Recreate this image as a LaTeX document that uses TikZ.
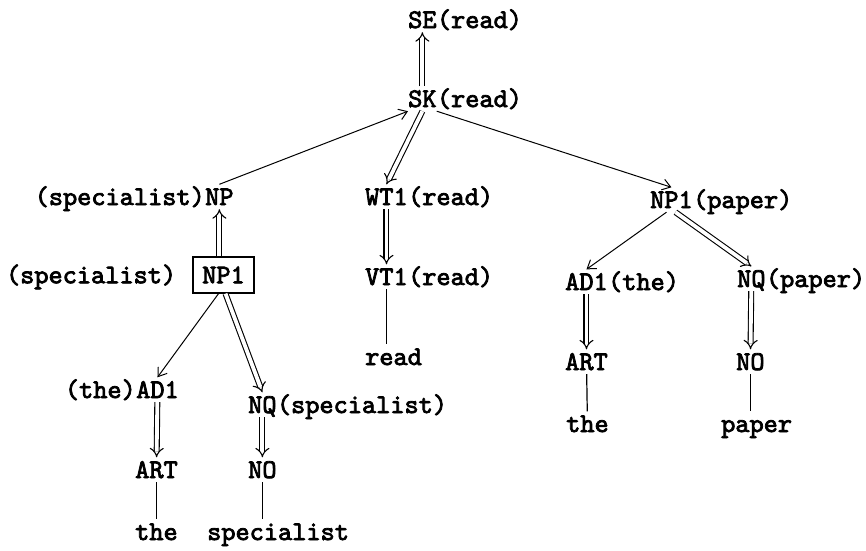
\documentclass[tikz,border=0pt]{standalone}
\usepackage{fontspec}
\newfontfamily\typer{lmmono10-regular.otf}[FakeBold=2.8]
\usetikzlibrary{arrows.meta,positioning}

\begin{document}
\begin{tikzpicture}[
  x=1pt, y=-1pt,
  lbl/.style={
    font=\fontsize{27}{32}\selectfont\typer,
    inner xsep=0pt,
    inner ysep=4pt,
    text height=16.5pt,
    text depth=0pt,
    anchor=base west
  },
  cat/.style={lbl},
  note/.style={lbl},
  word/.style={lbl},
  frame/.style={
    lbl,
    anchor=center,
    draw,
    line width=1.3pt,
    minimum width=61pt,
    minimum height=36pt
  },
  link/.style={-{Straight Barb[length=8pt, width=11pt]}, line width=1pt},
  derive/.style={-{Implies[scale=1.4]}, double, double distance=3.8pt, line width=1.1pt},
  leaf/.style={line width=1.2pt}
]
\useasboundingbox (0,0) rectangle (866,550);

\node[cat] (se) at (408,28) {SE};
\node[note, right=0pt of se.base east, anchor=base west] (seread) {(read)};

\node[cat] (sk) at (408,107) {SK};
\node[note, right=0pt of sk.base east, anchor=base west] (skread) {(read)};

\node[cat] (np) at (205,205) {NP};
\node[note, left=0pt of np.base west, anchor=base east] (npspec) {(specialist)};

\node[cat] (wt) at (365,205) {WT1};
\node[note, right=0pt of wt.base east, anchor=base west] (wtread) {(read)};

\node[cat] (vt) at (365,285) {VT1};
\node[note, right=0pt of vt.base east, anchor=base west] (vtread) {(read)};
\node[word] (read) at (365,365) {read};

\node[cat] (npp) at (650,208) {NP1};
\node[note, right=0pt of npp.base east, anchor=base west] (nppaper) {(paper)};

\node[frame] (box) at (223.5,275) {NP1};
\node[note, left=16pt of box.base west, anchor=base east] (boxspec) {(specialist)};

\node[cat] (adr) at (565,290) {AD1};
\node[note, right=0pt of adr.base east, anchor=base west] (adrthe) {(the)};
\node[cat] (nqr) at (737,287) {NQ};
\node[note, right=0pt of nqr.base east, anchor=base west] (nqrpaper) {(paper)};

\node[cat] (artr) at (565,370) {ART};
\node[cat] (nor) at (736,370) {NO};
\node[word] (ther) at (566,432) {the};
\node[word] (paper) at (721,432) {paper};

\node[cat] (adl) at (136,398) {AD1};
\node[note, left=0pt of adl.base west, anchor=base east] (adlthe) {(the)};
\node[cat] (nql) at (248,413) {NQ};
\node[note, right=0pt of nql.base east, anchor=base west] (nqlspec) {(specialist)};

\node[cat] (artl) at (135,478) {ART};
\node[cat] (nol) at (248,478) {NO};
\node[word] (thel) at (135,540) {the};
\node[word] (spec) at (207,540) {specialist};

\draw[derive] (sk) -- (se);
\draw[link] (np.north) -- (sk.south west);
\draw[derive] (sk.south) -- (wt.north);
\draw[link] (sk.south east) -- (npp.north);

\draw[derive] (box.north -| np.south) -- (np.south);
\draw[derive] (wt) -- (vt);
\draw[leaf] (vt.south) -- (vt.south |- read.north);

\draw[link] ([xshift=-5pt]npp.south) -- (adr.north);
\draw[derive] ([xshift=4pt]npp.south) -- (nqr.north);
\draw[derive] (adr) -- (artr);
\draw[derive] (nqr) -- (nor);
\draw[leaf] (artr) -- (ther);
\draw[leaf] (nor.south) -- (nor.south |- paper.north);

\draw[link] ([xshift=-5pt]box.south) -- (adl.north);
\draw[derive] ([xshift=2pt]box.south) -- (nql.north);
\draw[derive] (adl) -- (artl);
\draw[derive] (nql) -- (nol);
\draw[leaf] (artl) -- (thel);
\draw[leaf] (nol.south) -- (nol.south |- spec.north);

\end{tikzpicture}
\end{document}
